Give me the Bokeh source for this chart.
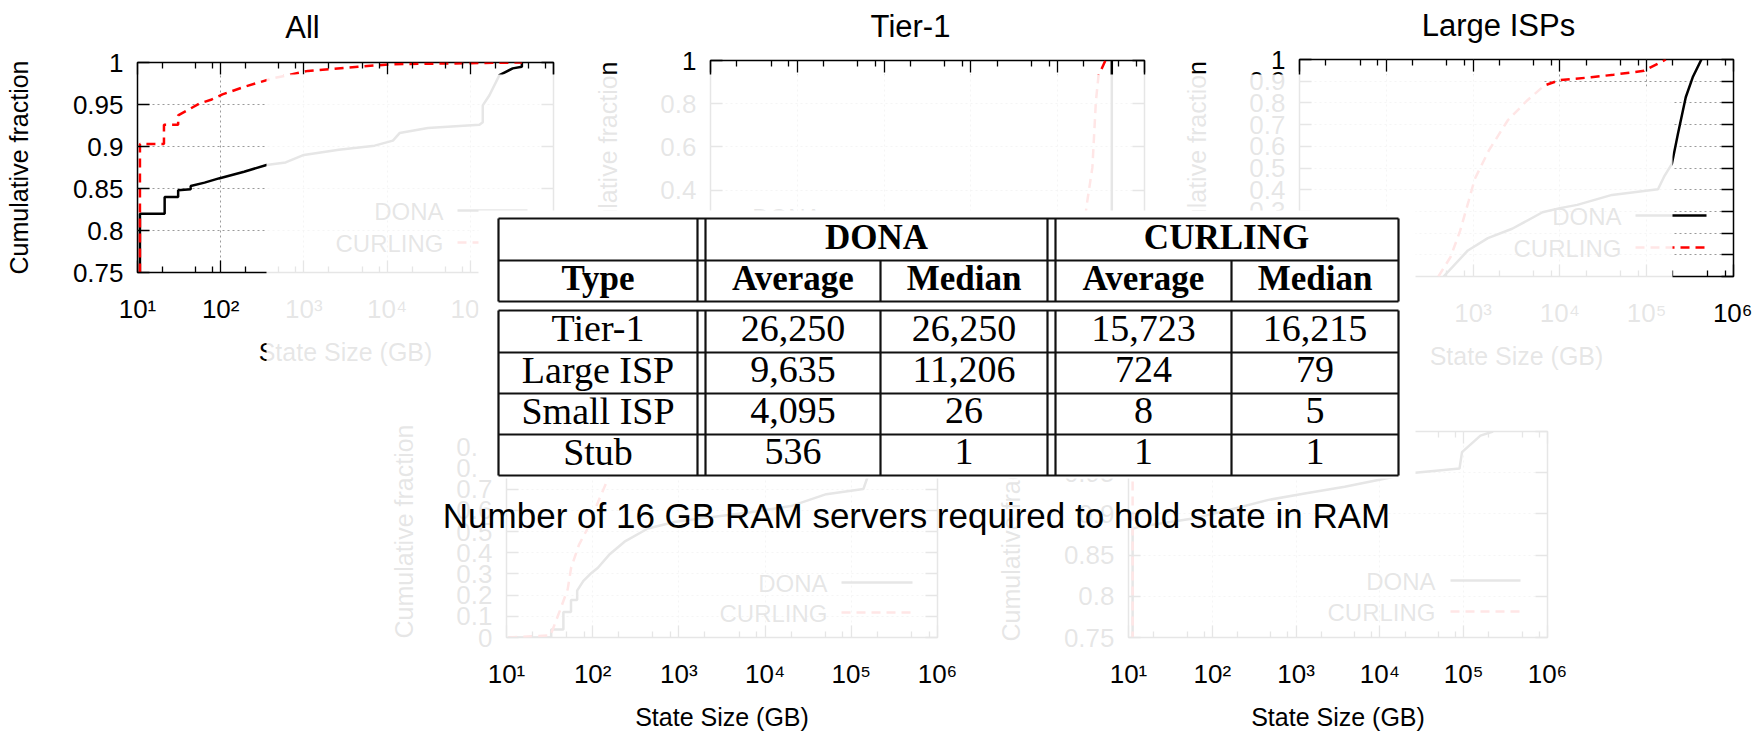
from bokeh.plotting import figure
from bokeh.models import Range1d, LogAxis, LinearAxis, FixedTicker, CustomJSTickFormatter
from bokeh.core.properties import value
from bokeh.embed import file_html
from bokeh.resources import INLINE

# ---------------- data ----------------
panel_titles = ["All", "Tier-1", "Large ISPs"]
series_names = ["DONA", "CURLING"]
x_label = "State Size (GB)"
y_label = "Cumulative fraction"
x_ticks = [10, 100, 1000, 10000, 100000, 1000000]
x_minor = [m * 10 ** k for k in range(1, 6) for m in (2, 5, 8)]
y_ticks_quarter = [0.75, 0.8, 0.85, 0.9, 0.95, 1.0]
y_ticks_fifth = [0, 0.2, 0.4, 0.6, 0.8, 1.0]
y_ticks_tenth = [0, 0.1, 0.2, 0.3, 0.4, 0.5, 0.6, 0.7, 0.8, 0.9, 1.0]

# "All" panel (state size in GB, cumulative fraction)
all_dona_x = [10.7, 10.7, 21.2, 21.2, 30.8, 30.8, 43.6, 43.6, 64, 95, 191, 355, 603, 1000,
              2630, 7080, 11750, 14125, 30900, 128800, 141250, 141250, 169800, 223900,
              257000, 323600, 416900, 416900]
all_dona_y = [0.0, 0.82, 0.82, 0.84, 0.84, 0.848, 0.849, 0.853, 0.857, 0.862, 0.870, 0.878,
              0.881, 0.890, 0.896, 0.901, 0.907, 0.916, 0.922, 0.926, 0.929, 0.949, 0.961,
              0.985, 0.988, 0.993, 0.995, 1.0]
all_curl_x = [10.7, 10.7, 20.8, 20.8, 30.8, 30.8, 43, 55, 78, 105, 191, 417, 1120, 4470,
              12000, 417000]
all_curl_y = [0.0, 0.903, 0.903, 0.926, 0.926, 0.937, 0.945, 0.951, 0.956, 0.962, 0.971,
              0.981, 0.990, 0.995, 0.998, 1.0]

# Tier-1 panel
tier1_dona_x = [420000, 420000]
tier1_dona_y = [0.0, 1.0]
tier1_curl_x = [158000, 195000, 213800, 251000, 275400, 295100, 354800]
tier1_curl_y = [0.0, 0.15, 0.32, 0.505, 0.81, 0.93, 1.0]

# Large ISPs panel
large_dona_x = [457, 871, 1479, 2818, 6310, 10000, 15850, 25120, 39810, 134900, 158500,
                195000, 229100, 281800, 338800, 426600]
large_dona_y = [0.0, 0.12, 0.177, 0.22, 0.296, 0.315, 0.33, 0.353, 0.376, 0.402, 0.46,
                0.519, 0.658, 0.826, 0.918, 1.0]
large_curl_x = [398, 550, 708, 891, 1047, 1514, 2512, 4169, 6607, 10000, 22910, 41690,
                93330, 166000]
large_curl_y = [0.0, 0.09, 0.21, 0.35, 0.45, 0.58, 0.72, 0.81, 0.88, 0.905, 0.918, 0.93,
                0.948, 1.0]

# Small ISPs panel (bottom left)
small_dona_x = [10.5, 33, 33, 45.7, 45.7, 56, 56, 66, 66, 78, 93, 115, 155, 234, 437, 891,
                2455, 6761, 19950, 51290, 138000, 158500, 177800, 251200, 416900]
small_dona_y = [0.0, 0.0, 0.038, 0.038, 0.12, 0.12, 0.177, 0.177, 0.221, 0.267, 0.298,
                0.329, 0.39, 0.452, 0.514, 0.545, 0.568, 0.591, 0.62, 0.676, 0.70, 0.77,
                0.85, 0.95, 1.0]
small_curl_x = [10.5, 32.4, 41.7, 51.3, 56.2, 69.2, 85.1, 114.8, 154.9, 251, 631, 3162, 15850]
small_curl_y = [0.0, 0.01, 0.128, 0.228, 0.329, 0.437, 0.506, 0.637, 0.761, 0.88, 0.96,
                0.99, 1.0]

# Stubs panel (bottom right)
stub_dona_x = [11.2, 11.2, 13, 56.2, 162, 468, 1318, 3802, 14790, 26300, 89100, 95500,
               158500, 223900]
stub_dona_y = [0.0, 0.882, 0.884, 0.894, 0.905, 0.917, 0.925, 0.933, 0.945, 0.95, 0.955,
               0.975, 0.995, 1.0]
stub_curl_x = [11.2, 11.2, 40]
stub_curl_y = [0.0, 0.998, 1.0]

# Table: number of 16 GB RAM servers
table_types = ["Tier-1", "Large ISP", "Small ISP", "Stub"]
dona_average = [26250, 9635, 4095, 536]
dona_median = [26250, 11206, 26, 1]
curling_average = [15723, 724, 8, 1]
curling_median = [16215, 79, 5, 1]
caption = "Number of 16 GB RAM servers required to hold state in RAM"

# ---------------- styling ----------------
SANS = "Liberation Sans"
SERIF = "Liberation Serif"
W, H = 1752, 733
TICK_FS = 26
K_BASE = 0.35   # baseline correction (fraction of font size)

sup_fmt = CustomJSTickFormatter(code=r"""
const s = {"0":"\u2070","1":"\u00b9","2":"\u00b2","3":"\u00b3","4":"\u2074","5":"\u2075",
           "6":"\u2076","7":"\u2077","8":"\u2078","9":"\u2079","-":"\u207b"};
const e = Math.round(Math.log10(tick));
return "10" + String(e).split("").map(c => s[c]).join("");
""")
y_fmt = CustomJSTickFormatter(code="return String(Number(tick.toFixed(2)));")
blank_fmt = CustomJSTickFormatter(code="return '';")


def style_axis(ax, show=True):
    ax.major_tick_in = 12
    ax.major_tick_out = 0
    ax.minor_tick_in = 6
    ax.minor_tick_out = 0
    ax.major_tick_line_color = "black"
    ax.minor_tick_line_color = "black"
    ax.major_tick_line_width = 1.3
    ax.minor_tick_line_width = 1.3
    ax.axis_line_color = None
    if show:
        ax.major_label_text_font = SANS
        ax.major_label_text_font_size = f"{TICK_FS}px"
        ax.major_label_text_color = "black"
        ax.axis_label_text_font = SANS
        ax.axis_label_text_font_size = "25px"
        ax.axis_label_text_font_style = "normal"
        ax.axis_label_text_color = "black"
    else:
        ax.major_label_text_font_size = "1px"
        ax.major_label_standoff = 0


def make_panel(fl, ft, fw, fh, y0, y1, yticks, dona, curl, bl=137, bt=40, br=20, bb=110,
               ystand=35):
    p = figure(width=bl + fw + br, height=bt + fh + bb, x_axis_type="log",
               x_range=Range1d(10, 1e6), y_range=Range1d(y0, y1),
               toolbar_location=None, output_backend="svg",
               min_border_left=bl, min_border_right=br, min_border_top=bt,
               min_border_bottom=bb)
    p.styles = {"position": "absolute", "left": f"{fl - bl}px", "top": f"{ft - bt}px"}
    p.background_fill_alpha = 0
    p.border_fill_alpha = 0
    p.outline_line_color = "black"
    p.outline_line_width = 1.5
    xt = FixedTicker(ticks=x_ticks, minor_ticks=x_minor)
    yt = FixedTicker(ticks=yticks)
    xa = p.xaxis[0]
    xa.ticker = xt
    xa.formatter = sup_fmt
    style_axis(xa)
    xa.axis_label = x_label
    xa.major_label_standoff = 21
    xa.axis_label_standoff = 11
    ya = p.yaxis[0]
    ya.ticker = yt
    ya.formatter = y_fmt
    style_axis(ya)
    ya.axis_label = y_label
    ya.major_label_standoff = 14
    ya.axis_label_standoff = ystand
    top = LogAxis(ticker=xt, formatter=blank_fmt)
    style_axis(top, False)
    p.add_layout(top, "above")
    right = LinearAxis(ticker=yt, formatter=blank_fmt)
    style_axis(right, False)
    p.add_layout(right, "right")
    p.xgrid.ticker = xt
    p.ygrid.ticker = yt
    for g in (p.xgrid, p.ygrid):
        g.grid_line_color = "#9a9a9a"
        g.grid_line_dash = "2 3"
        g.grid_line_width = 1
    p.line(dona[0], dona[1], line_color="black", line_width=2.5)
    p.line(curl[0], curl[1], line_color="red", line_width=2.5, line_dash="9 6")
    return p


panels = [
    make_panel(137, 62, 416, 210, 0.75, 1.0, y_ticks_quarter,
               (all_dona_x, all_dona_y), (all_curl_x, all_curl_y), ystand=37),
    make_panel(710, 60, 434, 216, 0.0, 1.0, y_ticks_fifth,
               (tier1_dona_x, tier1_dona_y), (tier1_curl_x, tier1_curl_y)),
    make_panel(1299, 59, 434, 217, 0.0, 1.0, y_ticks_tenth,
               (large_dona_x, large_dona_y), (large_curl_x, large_curl_y), br=19),
    make_panel(506, 425, 431, 216, 0.0, 1.0, y_ticks_tenth,
               (small_dona_x, small_dona_y), (small_curl_x, small_curl_y), bb=92),
    make_panel(1128, 431, 419, 209, 0.75, 1.0, y_ticks_quarter,
               (stub_dona_x, stub_dona_y), (stub_curl_x, stub_curl_y), bb=93, ystand=36),
]

# ---------------- overlay (page coordinates) ----------------
ov = figure(width=W - 16, height=H - 16, x_range=Range1d(8, W - 8), y_range=Range1d(H - 8, 8),
            toolbar_location=None, output_backend="svg",
            x_axis_location=None, y_axis_location=None, min_border=0)
ov.styles = {"position": "absolute", "left": "8px", "top": "8px"}
ov.grid.visible = False
ov.outline_line_color = None
ov.background_fill_alpha = 0
ov.border_fill_alpha = 0


def put_text(xs, ys, texts, font, fs, align="center", style="normal"):
    ov.text(x=xs, y=[y - K_BASE * fs for y in ys], text=texts, text_font=value(font),
            text_font_size=value(f"{fs}px"), text_font_style=style, text_align=align,
            text_baseline="alphabetic", text_color="black")


# panel titles (baselines)
put_text([302, 910, 1498], [38, 37, 36], panel_titles, SANS, 31)

# legends: (text right edge, y DONA, y CURLING, sample x0, sample x1)
legend_pos = [(443, 210, 242, 457, 527), (821, 216, 248, 835, 905),
              (1621, 215, 247, 1635, 1706), (827, 582, 612, 841, 912),
              (1435, 580, 611, 1450, 1520)]
for tx, yd, yc, l0, l1 in legend_pos:
    put_text([tx, tx], [yd + 9, yc + 9], series_names, SANS, 24, align="right")
    ov.segment(x0=[l0], y0=[yd], x1=[l1], y1=[yd], line_color="black", line_width=2.5)
    ov.segment(x0=[l0], y0=[yc], x1=[l1], y1=[yc], line_color="red", line_width=2.5,
               line_dash="9 6")

# fading veils (the greyed-out parts of the slide)
ov.patch(x=[266, 1543, 1543, 1672, 1672, 266], y=[74, 74, 86, 86, 380, 380],
         fill_color="white", fill_alpha=0.9, line_color=None)
ov.quad(left=[330], right=[1600], top=[380], bottom=[656], fill_color="white",
        fill_alpha=0.9, line_color=None)

# table
ov.quad(left=[478], right=[1415], top=[210], bottom=[478], fill_color="white",
        line_color=None)
TL, TR = 498, 1398
hx0, hy0, hx1, hy1 = [], [], [], []


def seg(a, b, c, d):
    hx0.append(a); hy0.append(b); hx1.append(c); hy1.append(d)


for (top, bot) in [(218, 301), (310, 475)]:
    seg(TL, top, TR, top)
    seg(TL, bot, TR, bot)
    seg(TL, top, TL, bot)
    seg(TR, top, TR, bot)
    for vx in (697, 705, 1047, 1055):
        seg(vx, top, vx, bot)
seg(TL, 260, TR, 260)
for vx in (880, 1231):
    seg(vx, 260, vx, 301)
    seg(vx, 310, vx, 475)
for hy in (352, 393, 434):
    seg(TL, hy, TR, hy)
ov.segment(x0=hx0, y0=hy0, x1=hx1, y1=hy1, line_color="#111111", line_width=2.2)

col_x = [597.5, 792.5, 963.5, 1143, 1314.5]
put_text([876, 1226], [249, 249], series_names, SERIF, 35, style="bold")
put_text(col_x, [290] * 5, ["Type", "Average", "Median", "Average", "Median"], SERIF, 35,
         style="bold")
row_y = [331, 372.5, 413.5, 454.5]
cells_x, cells_y, cells_t = [], [], []
for i, t in enumerate(table_types):
    vals = [t] + [f"{v:,}" for v in (dona_average[i], dona_median[i],
                                     curling_average[i], curling_median[i])]
    for j, s in enumerate(vals):
        cells_x.append(col_x[j]); cells_y.append(row_y[i] + 10); cells_t.append(s)
put_text(cells_x, cells_y, cells_t, SERIF, 38)

# caption
put_text([916], [527], [caption], SANS, 35)

p = panels + [ov]
open("out.html", "w", encoding="utf-8").write(file_html(p, INLINE))
